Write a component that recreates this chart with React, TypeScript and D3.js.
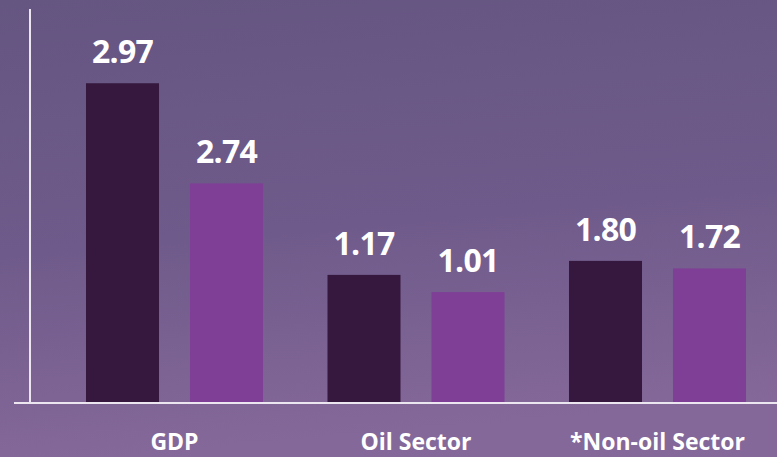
import { useEffect, useRef } from 'react';
import * as d3 from 'd3';

const categories = ['GDP', 'Oil Sector', '*Non-oil Sector'];
const series = ['first', 'second'];
// printed labels on top of the bars
const labelsFirst = ['2.97', '1.17', '1.80'];
const labelsSecond = ['2.74', '1.01', '1.72'];
// bar heights as drawn in the picture (not to scale with the labels)
const drawnFirst = [2.97, 1.19, 1.32];
const drawnSecond = [2.04, 1.03, 1.25];

const colors = ['#36183e', '#7f3f96'];

const App = () => {
    const ref = useRef<SVGSVGElement>(null);

    useEffect(() => {
        const width = 777;
        const height = 457;
        const baseline = 403;

        const svg = d3.select(ref.current);
        svg.selectAll('*').remove();

        const defs = svg.append('defs');
        const grad = defs.append('linearGradient')
            .attr('id', 'bg')
            .attr('x1', 0).attr('y1', 0)
            .attr('x2', 0.15).attr('y2', 1);
        grad.append('stop').attr('offset', '0%').attr('stop-color', '#655581');
        grad.append('stop').attr('offset', '55%').attr('stop-color', '#6f5b8b');
        grad.append('stop').attr('offset', '100%').attr('stop-color', '#846899');

        svg.append('rect')
            .attr('width', width)
            .attr('height', height)
            .attr('fill', 'url(#bg)');

        const x0 = d3.scaleBand()
            .domain(categories)
            .range([53.75, 778.25])
            .paddingInner(0.267)
            .paddingOuter(0.1335);

        const x1 = d3.scaleBand()
            .domain(series)
            .range([0, x0.bandwidth()])
            .paddingInner(0.298);

        const y = d3.scaleLinear()
            .domain([0, 3])
            .range([baseline, baseline - 323]);

        const rows = categories.map((c, i) => ({
            cat: c,
            bars: [
                { key: 'first', v: drawnFirst[i], label: labelsFirst[i] },
                { key: 'second', v: drawnSecond[i], label: labelsSecond[i] },
            ],
        }));

        const groups = svg.selectAll('g.group')
            .data(rows)
            .enter()
            .append('g')
            .attr('class', 'group')
            .attr('transform', d => `translate(${x0(d.cat)}, 0)`);

        groups.selectAll('rect')
            .data(d => d.bars)
            .enter()
            .append('rect')
            .attr('x', d => x1(d.key)!)
            .attr('y', d => y(d.v))
            .attr('width', x1.bandwidth())
            .attr('height', d => baseline - y(d.v))
            .attr('fill', (d, i) => colors[i]);

        groups.selectAll('text')
            .data(d => d.bars)
            .enter()
            .append('text')
            .attr('x', d => x1(d.key)! + x1.bandwidth() / 2)
            .attr('y', d => y(d.v) - 20)
            .attr('text-anchor', 'middle')
            .attr('fill', '#ffffff')
            .style('font-family', '"Open Sans", sans-serif')
            .style('font-weight', 700)
            .style('font-size', '32px')
            .style('letter-spacing', '-0.8px')
            .text(d => d.label);

        // axes lines
        svg.append('line')
            .attr('x1', 30).attr('x2', 30)
            .attr('y1', 9).attr('y2', baseline)
            .attr('stroke', '#ece6f0')
            .attr('stroke-width', 2);
        svg.append('line')
            .attr('x1', 14).attr('x2', width)
            .attr('y1', baseline).attr('y2', baseline)
            .attr('stroke', '#ece6f0')
            .attr('stroke-width', 2);

        svg.selectAll('text.cat')
            .data(categories)
            .enter()
            .append('text')
            .attr('class', 'cat')
            .attr('x', d => x0(d)! + x0.bandwidth() / 2)
            .attr('y', 450)
            .attr('text-anchor', 'middle')
            .attr('fill', '#ffffff')
            .style('font-family', '"Open Sans", sans-serif')
            .style('font-weight', 700)
            .style('font-size', '23px')
            .text(d => d);
    }, []);

    return (
        <svg ref={ref} width={777} height={457}
            style={{ position: 'absolute', left: 0, top: 0, display: 'block' }} />
    );
};

export default App;
